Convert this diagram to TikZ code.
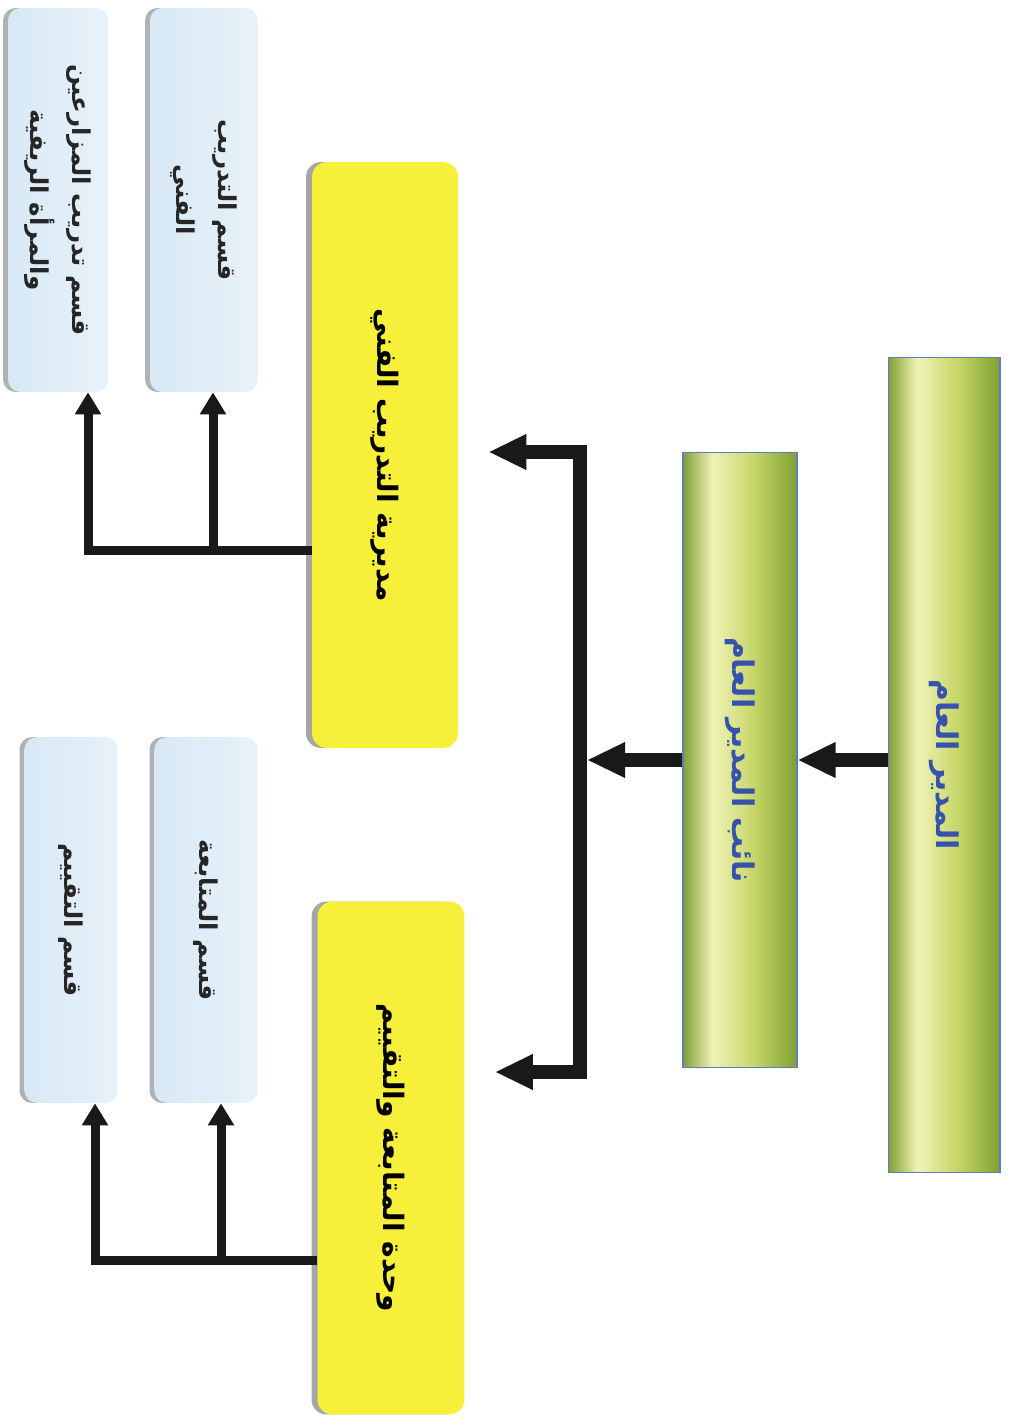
\documentclass[tikz,border=0pt]{standalone}
\usepackage{fontspec}
\newfontfamily\arabicfont[Script=Arabic]{DejaVu Sans}
\TeXXeTstate=1
\usetikzlibrary{arrows.meta,shadows}

\definecolor{barGreen}{RGB}{128,160,50}
\definecolor{barLight}{RGB}{240,243,182}
\definecolor{barMid}{RGB}{198,214,104}
\definecolor{barEdge}{RGB}{95,125,190}
\definecolor{unitYellow}{RGB}{247,240,58}
\definecolor{secBlue}{RGB}{216,233,245}
\definecolor{titleBlue}{RGB}{55,82,172}
\definecolor{linkBlack}{RGB}{25,25,25}

\pgfdeclarehorizontalshading{barshade}{100bp}{color(0bp)=(barGreen); color(25bp)=(barGreen); color(38bp)=(barLight); color(56bp)=(barMid); color(75bp)=(barGreen); color(100bp)=(barGreen)}

\tikzset{
  headbar/.style={rectangle, rotate=-90, draw=barEdge, line width=0.6pt, shading=barshade,
    inner sep=0pt, text=titleBlue, font=\arabicfont\bfseries\fontsize{17}{20}\selectfont},
  unitbox/.style={rectangle, rotate=-90, rounded corners=0.3cm, fill=unitYellow,
    drop shadow={shadow xshift=-0.12cm, shadow yshift=0cm, fill=gray!70, opacity=1},
    inner sep=0pt, text=black, font=\arabicfont\bfseries\fontsize{16}{20}\selectfont},
  secbox/.style={rectangle, rotate=-90, rounded corners=0.25cm, left color=secBlue, right color=secBlue!60,
    drop shadow={shadow xshift=-0.1cm, shadow yshift=0cm, fill=gray!60, opacity=1},
    inner sep=0pt, text=black!85, align=center, font=\arabicfont\bfseries\fontsize{14}{24}\selectfont},
  mainlink/.style={draw=linkBlack, line width=0.28cm, line join=miter,
    -{Triangle[length=0.76cm, width=0.66cm]}},
  sublink/.style={draw=linkBlack, line width=0.18cm, line join=miter,
    -{Triangle[length=0.44cm, width=0.5cm]}}
}

\begin{document}
\begin{tikzpicture}[x=0.02cm, y=-0.02cm]

  \useasboundingbox (0,0) rectangle (1021,1425);

  %% Top levels
  \node[headbar, minimum width=16.3cm, minimum height=2.24cm] (gm) at (944,765) {\beginR المدير العام\endR};
  \node[headbar, minimum width=12.32cm, minimum height=2.28cm] (dep) at (740,760) {\beginR نائب المدير العام\endR};

  %% Units
  \node[unitbox, minimum width=11.72cm, minimum height=2.92cm] (dirT) at (385,455) {\beginR مديرية التدريب الفني\endR};
  \node[unitbox, minimum width=10.26cm, minimum height=2.94cm] (unitME) at (391,1158) {\beginR وحدة المتابعة والتقييم\endR};

  %% Sections
  \node[secbox, minimum width=7.68cm, minimum height=2.0cm] (secFarm) at (58,200) {\beginR قسم تدريب المزارعين\endR\\ \beginR والمرأة الريفية\endR};
  \node[secbox, minimum width=7.68cm, minimum height=2.16cm] (secTech) at (204,200) {\beginR قسم التدريب\endR\\ \beginR الفني\endR};
  \node[secbox, minimum width=7.32cm, minimum height=1.86cm] (secEval) at (71,920) {\beginR قسم التقييم\endR};
  \node[secbox, minimum width=7.32cm, minimum height=2.06cm] (secFollow) at (206,920) {\beginR قسم المتابعة\endR};

  %% Bus
  \coordinate (busT) at (580,452);
  \coordinate (busB) at (580,1072);
  \coordinate (busEdge) at (587,760);
  \coordinate (brA) at (88,550);
  \coordinate (brB) at (213,550);
  \coordinate (brC) at (95,1260);
  \coordinate (brD) at (221,1260);

  \draw[mainlink] (gm.south |- dep) -- (dep.north);
  \draw[mainlink] (dep.south) -- (dep.south -| busEdge);
  \draw[mainlink, {Triangle[length=0.76cm, width=0.66cm]}-{Triangle[length=0.76cm, width=0.66cm]}, shorten <=0.6cm, shorten >=0.6cm]
    (dirT.north |- busT) -- (busT) -- (busB) -- (unitME.north |- busB);

  %% Branches
  \draw[sublink] (dirT.south |- brA) -| (brA |- secFarm.east);
  \draw[sublink] (brB) -- (brB |- secTech.east);
  \draw[sublink] (unitME.south |- brC) -| (brC |- secEval.east);
  \draw[sublink] (brD) -- (brD |- secFollow.east);

\end{tikzpicture}
\end{document}
